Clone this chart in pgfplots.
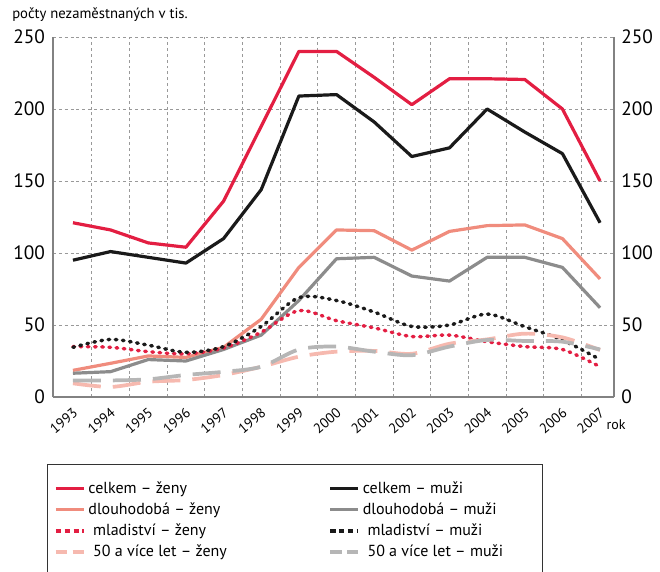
\documentclass[border=0pt]{standalone}
\usepackage{pgfplots}
\pgfplotsset{compat=1.18}
\usepackage{fontspec}
\setmainfont{PT Sans}
\definecolor{cred}{RGB}{227,30,66}
\definecolor{csalmon}{RGB}{240,140,125}
\definecolor{clsalmon}{RGB}{246,185,175}
\definecolor{cblack}{RGB}{26,26,26}
\definecolor{cgrey}{RGB}{140,140,140}
\definecolor{clgrey}{RGB}{182,182,182}
\definecolor{axgrey}{RGB}{130,130,130}
\pgfplotsset{
  dotleg/.style={legend image code/.code={\draw[##1, line cap=butt, dash pattern=on 4pt off 2.6pt] (0pt,0pt) -- (21pt,0pt);}},
  dashleg/.style={legend image code/.code={\draw[##1, dash pattern=on 8.5pt off 4pt] (0pt,0pt) -- (21pt,0pt);}},
}
\pgfplotstableread{
year cz cm dz dm mz mm sz sm
1993 121 95 18.5 16.5 35 34.5 9.5 11.5
1994 116 101 23.4 17.6 34.5 40 7 11.5
1995 107 97 28.5 26 31.5 36 10.6 12.3
1996 104 93 27.5 25 30 31 11.8 15.3
1997 136 110 34.5 33 34 35 15.3 17.5
1998 188 144 54 43 45 49 21 21
1999 240 209 90 67 60 69 28 33
2000 240 210 116 96 53 67 31.5 35
2001 222 191 115.5 97 48 59 32 31.5
2002 203 167 102 84 42 49 30 29
2003 221 173 115 80.5 43 50 37 35
2004 221 200 119 97 38.4 57.6 40 39.6
2005 220.5 184 119.5 97 35 48.8 44 38.9
2006 200 169 110 90 33 39.6 41.4 38.4
2007 150 121 82 62 21 26 32.6 33
}\datatable
\newcommand{\lcell}[1]{\makebox[178pt][l]{#1}}
\newcommand{\rcell}[1]{\makebox[128pt][l]{#1}}
\begin{document}
\begin{tikzpicture}
\begin{axis}[
  at={(39.75pt,130.5pt)}, anchor=south west,
  scale only axis, width=420.75pt, height=270pt,
  xmin=1992.47, xmax=2007.37, ymin=0, ymax=250,
  axis x line*=bottom, axis y line*=left,
  axis line style={-, draw=axgrey, line width=1.1pt},
  xtick={1993,...,2007},
  minor xtick={1993.5,1994.5,...,2006.5},
  ytick={0,50,...,250},
  xminorgrids=true, ymajorgrids=true, xmajorgrids=false,
  major grid style={draw=black!40, line width=0.5pt, dash pattern=on 2.2pt off 2.2pt},
  minor grid style={draw=black!40, line width=0.5pt, dash pattern=on 2.2pt off 2.2pt},
  major tick length=0pt, minor tick length=0pt,
  /pgf/number format/assume math mode=true,
  x tick label style={/pgf/number format/1000 sep={}, rotate=40, anchor=east, font=\fontsize{10.5}{12}\selectfont, yshift=-9pt, xshift=-4pt, inner sep=1pt},
  y tick label style={font=\fontsize{14.5}{16}\selectfont, xshift=-2.5pt},
  clip=false,
  legend columns=2,
  legend cell align=left,
  legend style={at={(-0.0107,-0.186)}, anchor=north west, draw=black!80, line width=0.6pt,
    inner xsep=5pt, inner ysep=11pt, font=\fontsize{12}{14}\selectfont,
    /tikz/every even column/.append style={column sep=0pt}, row sep=1.6pt},
  legend image code/.code={\draw[#1] (0pt,0pt) -- (21pt,0pt);},
  every axis plot/.append style={line join=round},
]
\addplot[cred, line width=2.4pt] table[x=year,y=cz]{\datatable};
\addlegendentry{\lcell{celkem – ženy}}
\addplot[cblack, line width=2.4pt] table[x=year,y=cm]{\datatable};
\addlegendentry{\rcell{celkem – muži}}
\addplot[csalmon, line width=2.4pt] table[x=year,y=dz]{\datatable};
\addlegendentry{\lcell{dlouhodobá – ženy}}
\addplot[cgrey, line width=2.4pt] table[x=year,y=dm]{\datatable};
\addlegendentry{\rcell{dlouhodobá – muži}}
\addplot[cred, line width=2.6pt, smooth, line cap=round, dash pattern=on 1.2pt off 4.2pt, dotleg] table[x=year,y=mz]{\datatable};
\addlegendentry{\lcell{\hspace{3.5pt}mladiství – ženy}}
\addplot[cblack, line width=2.6pt, smooth, line cap=round, dash pattern=on 1.2pt off 4.2pt, dotleg] table[x=year,y=mm]{\datatable};
\addlegendentry{\rcell{\hspace{3.5pt}mladiství – muži}}
\addplot[clsalmon, line width=2.8pt, smooth, dash pattern=on 21pt off 9pt, dashleg] table[x=year,y=sz]{\datatable};
\addlegendentry{\lcell{\hspace{3.5pt}50 a více let – ženy}}
\addplot[clgrey, line width=2.8pt, smooth, dash pattern=on 21pt off 9pt, dashleg] table[x=year,y=sm]{\datatable};
\addlegendentry{\rcell{\hspace{3.5pt}50 a více let – muži}}
\node[font=\fontsize{10.5}{12}\selectfont, inner sep=0pt] at (rel axis cs:1,0) [yshift=-21pt, xshift=1.5pt] {rok};
\end{axis}
\begin{axis}[
  at={(39.75pt,130.5pt)}, anchor=south west,
  scale only axis, width=420.75pt, height=270pt,
  xmin=1992.47, xmax=2007.37, ymin=0, ymax=250,
  axis x line=none, axis y line*=right,
  axis line style={-, draw=axgrey, line width=1.1pt},
  ytick={0,50,...,250}, major tick length=0pt,
  /pgf/number format/assume math mode=true,
  y tick label style={font=\fontsize{14.5}{16}\selectfont, xshift=2pt},
]
\addplot[draw=none] coordinates {(1993,0)};
\end{axis}
\node[anchor=west, inner sep=0pt, font=\fontsize{11}{13}\selectfont] at (9pt,417pt) {počty nezaměstnaných v tis.};
\pgfresetboundingbox
\path[use as bounding box] (0pt,0pt) rectangle (495pt,428.25pt);
\end{tikzpicture}
\end{document}
